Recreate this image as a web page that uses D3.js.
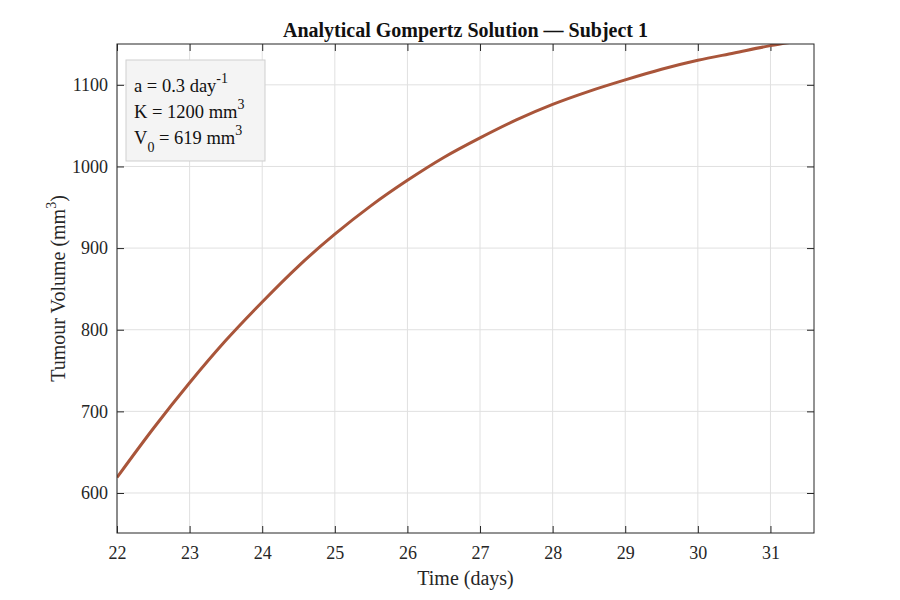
<!DOCTYPE html>
<html>
<head>
<meta charset="utf-8">
<script src="https://cdn.jsdelivr.net/npm/d3@7"></script>
<style>
  body { margin: 0; background: #fff; }
  text { font-family: "Liberation Serif", "Times New Roman", serif; }
</style>
</head>
<body>
<div id="chart"></div>
<script>
// values (days, mm^3)
const timeDays = [22, 22.5, 23, 23.5, 24, 24.5, 25, 25.5, 26, 26.5, 27, 27.5, 28, 28.5, 29, 29.5, 30, 30.5, 31, 31.5];
const volume = [619, 679, 735, 787, 834, 878, 917, 952, 983, 1011, 1035, 1057, 1076, 1092, 1106, 1119, 1130, 1139, 1148, 1155];
const xTicks = [22, 23, 24, 25, 26, 27, 28, 29, 30, 31];
const yTicks = [600, 700, 800, 900, 1000, 1100];
const params = [
    {base: "a = 0.3 day", sup: "-1"},
    {base: "K = 1200 mm", sup: "3"},
    {base: "V", sub: "0", rest: " = 619 mm", sup: "3"}
];

const margin = {top: 44, right: 86, bottom: 67, left: 117},
    width = 900 - margin.left - margin.right,
    height = 600 - margin.top - margin.bottom;

const data = timeDays.map((t, i) => ({t: t, v: volume[i]}));

const svg = d3.select("#chart").append("svg")
    .attr("width", 900)
    .attr("height", 600);

const g = svg.append("g")
    .attr("transform", "translate(" + margin.left + "," + margin.top + ")");

const x = d3.scaleLinear()
    .domain([22, 31.6])
    .range([0, width]);

const y = d3.scaleLinear()
    .domain([551, 1150])
    .range([height, 0]);

// grid
g.append("g")
    .selectAll("line")
    .data(xTicks)
    .enter()
    .append("line")
    .attr("x1", d => x(d)).attr("x2", d => x(d))
    .attr("y1", 0).attr("y2", height)
    .attr("stroke", "#e0e0e0");

g.append("g")
    .selectAll("line")
    .data(yTicks)
    .enter()
    .append("line")
    .attr("x1", 0).attr("x2", width)
    .attr("y1", d => y(d)).attr("y2", d => y(d))
    .attr("stroke", "#e0e0e0");

// axes, ticks pointing inward
function styleAxis(sel) {
    sel.select(".domain").remove();
    sel.selectAll(".tick line").attr("stroke", "#262626").attr("stroke-width", 1);
    sel.selectAll(".tick text")
        .attr("fill", "#262626")
        .style("font-size", "18px")
        .style("font-family", "'Liberation Serif', 'Times New Roman', serif");
}

g.append("g")
    .attr("transform", "translate(0," + height + ")")
    .call(d3.axisBottom(x).tickValues(xTicks).tickSize(-7).tickPadding(13).tickFormat(d3.format("d")))
    .call(styleAxis);

g.append("g")
    .call(d3.axisTop(x).tickValues(xTicks).tickSize(-7).tickFormat(""))
    .call(styleAxis);

g.append("g")
    .call(d3.axisLeft(y).tickValues(yTicks).tickSize(-7).tickPadding(9).tickFormat(d3.format("d")))
    .call(styleAxis);

g.append("g")
    .attr("transform", "translate(" + width + ",0)")
    .call(d3.axisRight(y).tickValues(yTicks).tickSize(-7).tickFormat(""))
    .call(styleAxis);

// clip + curve
g.append("clipPath")
    .attr("id", "plot-clip")
    .append("rect")
    .attr("width", width)
    .attr("height", height);

const line = d3.line()
    .x(d => x(d.t))
    .y(d => y(d.v))
    .curve(d3.curveMonotoneX);

g.append("path")
    .datum(data)
    .attr("clip-path", "url(#plot-clip)")
    .attr("fill", "none")
    .attr("stroke", "#a9553a")
    .attr("stroke-width", 3)
    .attr("d", line);

// box
g.append("rect")
    .attr("width", width)
    .attr("height", height)
    .attr("fill", "none")
    .attr("stroke", "#262626")
    .attr("stroke-width", 1);

// parameter box
const box = g.append("g").attr("transform", "translate(9,16)");
box.append("rect")
    .attr("width", 139)
    .attr("height", 101)
    .attr("fill", "#f4f4f4")
    .attr("stroke", "#cfcfcf");

params.forEach(function (p, i) {
    const t = box.append("text")
        .attr("x", 8)
        .attr("y", 32 + i * 26)
        .attr("fill", "#111")
        .style("font-size", "18.5px");
    t.append("tspan").text(p.base);
    if (p.sub) {
        t.append("tspan").attr("dy", 8).style("font-size", "14px").text(p.sub);
        t.append("tspan").attr("dy", -8).text(p.rest);
    }
    t.append("tspan").attr("dy", -9).style("font-size", "14px").text(p.sup);
});

// title and labels
svg.append("text")
    .attr("x", margin.left + width / 2)
    .attr("y", 37)
    .attr("text-anchor", "middle")
    .attr("fill", "#111")
    .style("font-size", "20px")
    .style("font-weight", "bold")
    .text("Analytical Gompertz Solution — Subject 1");

svg.append("text")
    .attr("x", margin.left + width / 2)
    .attr("y", 585)
    .attr("text-anchor", "middle")
    .attr("fill", "#262626")
    .style("font-size", "20px")
    .text("Time (days)");

const yl = svg.append("text")
    .attr("transform", "translate(65," + (margin.top + height / 2) + ") rotate(-90)")
    .attr("text-anchor", "middle")
    .attr("fill", "#262626")
    .style("font-size", "20px");
yl.append("tspan").text("Tumour Volume (mm");
yl.append("tspan").attr("dy", -9).style("font-size", "14px").text("3");
yl.append("tspan").attr("dy", 9).text(")");
</script>
</body>
</html>
